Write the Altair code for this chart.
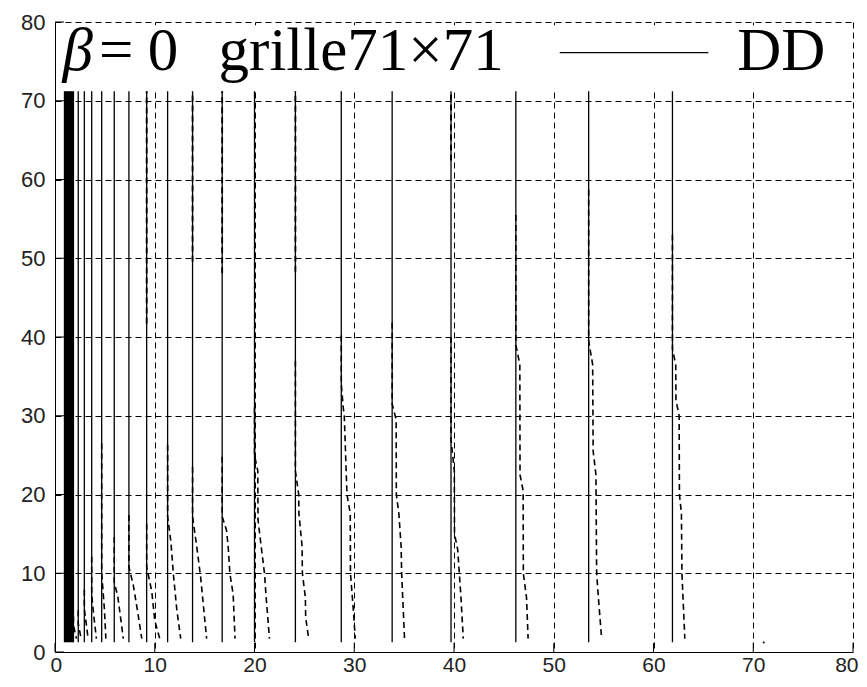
import altair as alt
import pandas as pd

# ---------------- data ----------------
x_ticks = [0, 10, 20, 30, 40, 50, 60, 70, 80]
y_ticks = [0, 10, 20, 30, 40, 50, 60, 70, 80]

# solid vertical lines (DD), from y = solid_bottom to y = solid_top
solid_x = [0.95, 1.05, 1.15, 1.25, 1.35, 1.45, 1.55, 1.65, 1.75, 1.85,
           2.33, 2.94, 3.68, 4.68, 5.94, 7.41, 9.19, 11.29, 13.79, 16.76,
           20.0, 24.1, 28.7, 33.8, 39.7, 46.2, 53.5, 61.9]
solid_bottom = 1.25
solid_top = 71.2

# dashed curves (each a polyline, top to bottom)
dashed_x = [
    [1.85, 1.85, 2.15],
    [2.33, 2.33, 2.62],
    [2.94, 2.94, 3.32],
    [3.68, 3.68, 3.90, 4.15],
    [4.68, 4.68, 4.95, 5.10],
    [5.94, 5.94, 6.30, 6.85],
    [7.41, 7.41, 7.85, 8.30, 8.70],
    [9.19, 9.19, 9.70, 10.00, 10.50],
    [11.29, 11.29, 11.62, 11.86, 12.20, 12.60],
    [13.79, 13.79, 14.20, 14.60, 15.20],
    [16.76, 16.76, 17.19, 17.36, 17.53, 17.86, 18.05],
    [20.0, 20.0, 20.33, 20.35, 20.67, 21.00, 21.17, 21.50],
    [24.1, 24.1, 24.43, 24.45, 24.77, 24.80, 25.10, 25.13, 25.43],
    [28.7, 28.7, 28.90, 29.00, 29.27, 29.60, 29.62, 29.93, 30.10],
    [33.8, 33.8, 34.20, 34.22, 34.47, 34.70, 34.75, 35.04],
    [39.7, 39.7, 40.03, 40.05, 40.37, 40.70, 40.93],
    [46.2, 46.2, 46.60, 46.62, 46.93, 46.95, 47.27, 47.43],
    [53.5, 53.5, 53.90, 53.95, 54.23, 54.30, 54.50, 54.80],
    [61.9, 61.9, 62.23, 62.25, 62.57, 62.60, 62.80, 62.85, 63.14],
]
dashed_y = [
    [4.5, 3.4, 1.7],
    [5.3, 3.6, 1.7],
    [7.9, 5.5, 1.7],
    [12.1, 7.2, 4.5, 1.7],
    [26.5, 10.0, 5.5, 1.7],
    [14.6, 8.9, 7.0, 1.7],
    [17.4, 10.8, 8.5, 5.0, 1.7],
    [16.3, 10.8, 7.7, 4.0, 1.7],
    [26.3, 17.2, 14.0, 10.0, 5.5, 1.7],
    [23.5, 17.2, 13.5, 9.5, 1.7],
    [24.8, 17.2, 15.5, 13.4, 10.0, 7.3, 1.7],
    [31.0, 25.0, 23.0, 16.8, 13.4, 10.0, 6.9, 1.7],
    [37.0, 23.0, 20.0, 17.6, 13.4, 10.0, 6.9, 4.4, 1.7],
    [40.2, 34.0, 31.0, 30.0, 20.0, 17.6, 10.0, 5.0, 1.7],
    [41.8, 31.5, 29.5, 20.0, 17.6, 13.4, 10.0, 1.7],
    [40.0, 27.0, 23.0, 15.0, 13.0, 6.9, 1.7],
    [55.5, 39.0, 36.5, 22.5, 20.5, 10.0, 6.9, 1.7],
    [58.7, 39.5, 36.5, 25.5, 22.5, 10.0, 6.5, 1.7],
    [53.0, 38.5, 36.5, 32.0, 30.0, 20.0, 17.6, 10.0, 1.7],
]

# short dashed segments lying on solid lines near the top
top_dash_x = [9.19, 13.79, 16.76, 24.1, 39.7]
top_dash_top = 71.2
top_dash_bottom = [41.7, 49.6, 48.1, 48.3, 62.4]

# isolated point
dot_x = [71.05]
dot_y = [1.2]

# legend (drawn inside the axes, as in the original)
legend_box_x = [0.15, 79.6]
legend_box_y = [71.5, 79.6]
legend_line_x = [50.6, 65.5]
legend_line_y = 76.1
beta_text = "β"
beta_x = 0.75
legend_texts = ["=", "0", "grille71×71", "DD"]
legend_text_x = [4.4, 9.3, 16.4, 68.4]
legend_text_y = 73.9

# ---------------- chart ----------------
W, H = 798, 630
label_font = "Liberation Sans Narrow, Liberation Sans, Arial"
serif = "Liberation Serif, Times New Roman, serif"

xs = alt.Scale(domain=[0, 80], nice=False, zero=False)
ys = alt.Scale(domain=[0, 80], nice=False, zero=False)
common_axis = dict(grid=True, gridColor="black", gridDash=[6, 4], gridWidth=1,
                   gridOpacity=1, domainColor="black", domainWidth=1, tickSize=0,
                   labelFont=label_font, labelFontSize=21, labelColor="#222",
                   labelOverlap=False, labelBound=False, title=None)
X = alt.X("x:Q", scale=xs, axis=alt.Axis(values=x_ticks, labelPadding=2,
                                         labelFlush=True, labelFlushOffset=5, **common_axis))
Y = alt.Y("y:Q", scale=ys, axis=alt.Axis(values=y_ticks, labelPadding=10,
                                         labelFlush=False, labelFontSize=22,
                                         **{k: v for k, v in common_axis.items()
                                            if k != "labelFontSize"}))

box_df = pd.DataFrame({"x": [legend_box_x[0]], "x2": [legend_box_x[1]],
                       "y": [legend_box_y[0]], "y2": [legend_box_y[1]]})
box = alt.Chart(box_df).mark_rect(fill="white").encode(
    x=X, x2="x2:Q", y=Y, y2="y2:Q")

solid_df = pd.DataFrame({"x": solid_x, "y": [solid_bottom] * len(solid_x),
                         "y2": [solid_top] * len(solid_x)})
solid = alt.Chart(solid_df).mark_rule(color="black", strokeWidth=1.3).encode(
    x=X, y=Y, y2="y2:Q")

rows = []
for c, (cx, cy) in enumerate(zip(dashed_x, dashed_y)):
    for i, (a, b) in enumerate(zip(cx, cy)):
        rows.append({"curve": c, "i": i, "x": a, "y": b})
dash_df = pd.DataFrame(rows)
dashed = alt.Chart(dash_df).mark_line(color="black", strokeWidth=1.6,
                                      strokeDash=[6, 4]).encode(
    x=X, y=Y, detail="curve:N", order="i:Q")

top_df = pd.DataFrame({"x": top_dash_x, "y": top_dash_bottom,
                       "y2": [top_dash_top] * len(top_dash_x)})
top_dash = alt.Chart(top_df).mark_rule(color="black", strokeWidth=1.8,
                                       strokeDash=[6, 4]).encode(
    x=X, y=Y, y2="y2:Q")

dot = alt.Chart(pd.DataFrame({"x": dot_x, "y": dot_y})).mark_point(
    filled=True, color="black", size=4, opacity=1).encode(x=X, y=Y)

xt = alt.Chart(pd.DataFrame({"x": x_ticks})).mark_rule(color="black", strokeWidth=1).encode(
    x=X, y=alt.value(H), y2=alt.value(H - 9))
yt = alt.Chart(pd.DataFrame({"y": y_ticks})).mark_rule(color="black", strokeWidth=1).encode(
    y=Y, x=alt.value(0), x2=alt.value(9))

leg_line = alt.Chart(pd.DataFrame({"x": [legend_line_x[0]], "x2": [legend_line_x[1]],
                                   "y": [legend_line_y]})).mark_rule(
    color="black", strokeWidth=1.3).encode(x=X, x2="x2:Q", y=Y)

beta = alt.Chart(pd.DataFrame({"x": [beta_x], "y": [legend_text_y], "t": [beta_text]})).mark_text(
    font=serif, fontSize=61, fontStyle="italic", align="left", baseline="alphabetic",
    color="black").encode(x=X, y=Y, text="t:N")
ltext = alt.Chart(pd.DataFrame({"x": legend_text_x, "y": [legend_text_y] * len(legend_texts),
                                "t": legend_texts})).mark_text(
    font=serif, fontSize=61, align="left", baseline="alphabetic",
    color="black").encode(x=X, y=Y, text="t:N")

chart = alt.layer(box, solid, dashed, top_dash, dot, xt, yt, leg_line, beta, ltext).properties(
    width=W, height=H,
    padding={"left": 47, "top": 14, "right": 6, "bottom": 24},
    autosize=alt.AutoSizeParams(type="none"),
    background="white",
).configure_view(stroke=None)

chart.save("out.html", embed_options={"renderer": "svg", "actions": False})
